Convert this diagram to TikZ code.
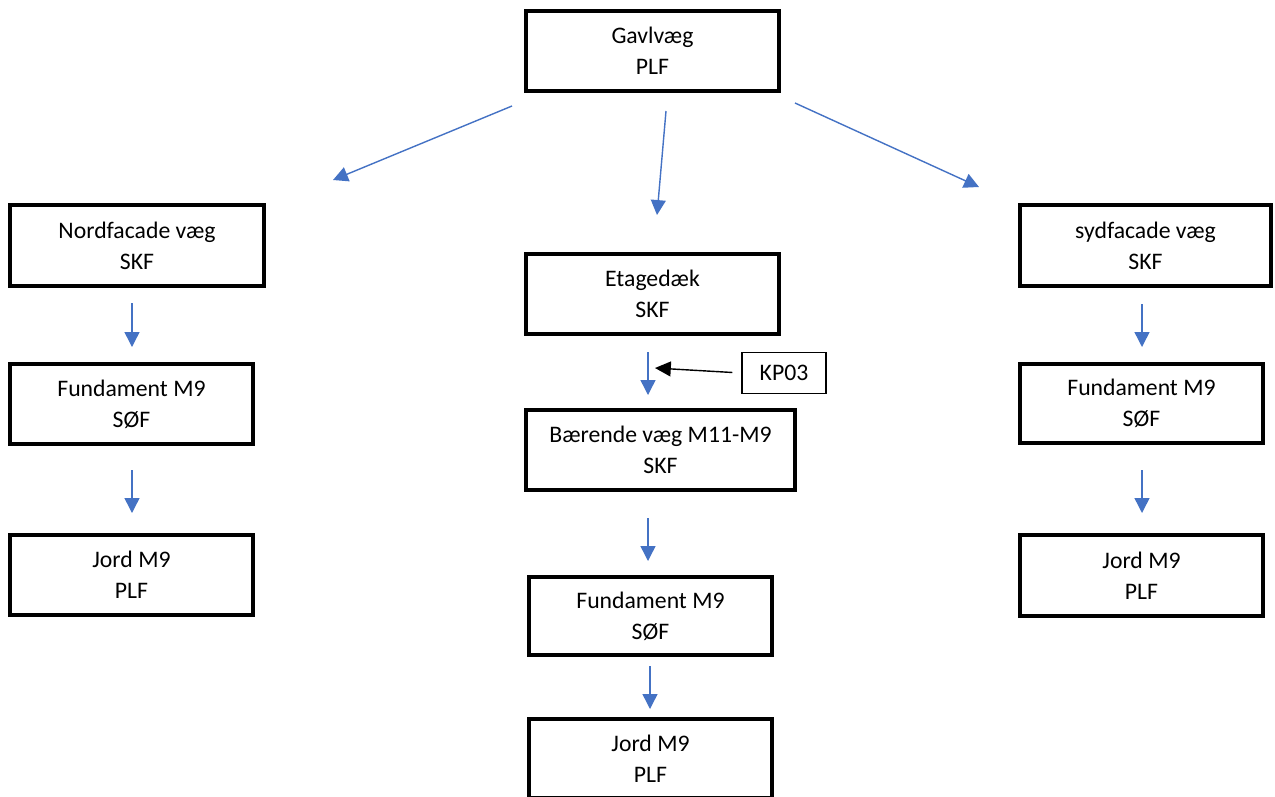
\documentclass[tikz,border=0pt]{standalone}
\usepackage{fontspec}
\setmainfont{Carlito}
\usetikzlibrary{arrows.meta}
\definecolor{flowblue}{HTML}{4472C4}
\tikzset{
  box/.style n args={2}{draw,line width=2pt,align=center,inner sep=0pt,
    minimum width=#1*0.02cm,minimum height=#2*0.02cm,
    font=\fontsize{13.5}{17.6}\selectfont},
  notebox/.style={draw,line width=0.7pt,inner sep=0pt,
    minimum width=1.68cm,minimum height=0.82cm,font=\fontsize{13.5}{17.6}\selectfont},
  flow/.style={draw=flowblue,line width=0.8pt,-{Triangle[length=8.5pt,width=8.5pt]},flowblue},
  pointer/.style={draw=black,line width=0.8pt,-{Triangle[length=9pt,width=8.5pt]}}
}
\begin{document}
\begin{tikzpicture}[x=0.02cm,y=-0.02cm]
  \useasboundingbox (0,0) rectangle (1275,796);
  % boxes
  \node[box={253}{80}] (gavl) at (652.5,51) {Gavlvæg\\PLF};
  \node[box={254}{81}] (nord) at (137,245.5) {Nordfacade væg\\SKF};
  \node[box={243}{80}] (fundL) at (131.5,404) {Fundament M9\\SØF};
  \node[box={243}{80}] (jordL) at (131.5,575) {Jord M9\\PLF};
  \node[box={253}{80}] (etage) at (652.5,294) {Etagedæk\\SKF};
  \node[box={269}{80}] (baer) at (660.5,450) {Bærende væg M11-M9\\SKF};
  \node[box={243}{78}] (fundC) at (650.5,616) {Fundament M9\\SØF};
  \node[box={243}{79}] (jordC) at (650.5,758.5) {Jord M9\\PLF};
  \node[box={251}{81}] (syd) at (1145.5,245.5) {sydfacade væg\\SKF};
  \node[box={243}{79}] (fundR) at (1141.5,403.5) {Fundament M9\\SØF};
  \node[box={243}{81}] (jordR) at (1141.5,575.5) {Jord M9\\PLF};
  \node[notebox] (kp) at (784,373) {KP03};
  % arrow ends
  \coordinate (gl0) at (512,106);  \coordinate (gl1) at (333,180);
  \coordinate (gm0) at (666,111);  \coordinate (gm1) at (657,215);
  \coordinate (gr0) at (795,103);  \coordinate (gr1) at (979,187);
  \coordinate (l10) at (132,303);  \coordinate (l11) at (132,347);
  \coordinate (l20) at (132,470);  \coordinate (l21) at (132,513);
  \coordinate (c10) at (648,352);  \coordinate (c11) at (648,395);
  \coordinate (c20) at (648,518);  \coordinate (c21) at (648,561);
  \coordinate (c30) at (650,666);  \coordinate (c31) at (650,709);
  \coordinate (r10) at (1142,304); \coordinate (r11) at (1142,347);
  \coordinate (r20) at (1142,470); \coordinate (r21) at (1142,513);
  \coordinate (kptip) at (655,368);
  % arrows
  \draw[flow] (gl0) -- (gl1);
  \draw[flow] (gm0) -- (gm1);
  \draw[flow] (gr0) -- (gr1);
  \draw[flow] (l10) -- (l11);
  \draw[flow] (l20) -- (l21);
  \draw[flow] (c10) -- (c11);
  \draw[flow] (c20) -- (c21);
  \draw[flow] (c30) -- (c31);
  \draw[flow] (r10) -- (r11);
  \draw[flow] (r20) -- (r21);
  \draw[pointer,shorten <=0.18cm] (kp.west) -- (kptip);
\end{tikzpicture}
\end{document}
